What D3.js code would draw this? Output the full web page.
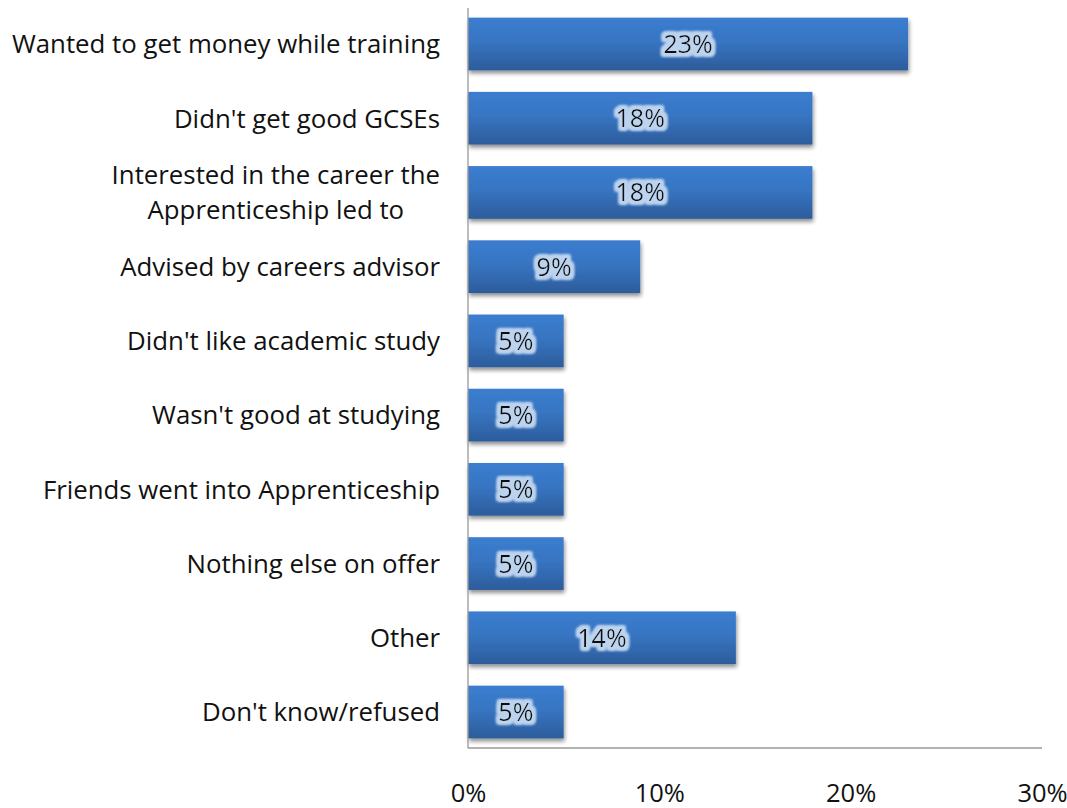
<!DOCTYPE html>
<html>
<head>
<meta charset="utf-8">
<script src="https://cdn.jsdelivr.net/npm/d3@7"></script>
<style>
  body { margin: 0; background: #fff; }
  svg { display: block; font-family: "Open Sans", "Noto Sans", sans-serif; }
</style>
</head>
<body>
<svg id="chart" width="1067" height="808"></svg>
<script>
// Reasons for choosing an Apprenticeship (share of respondents)
const categories = [
  "Wanted to get money while training",
  "Didn't get good GCSEs",
  "Interested in the career the\nApprenticeship led to",
  "Advised by careers advisor",
  "Didn't like academic study",
  "Wasn't good at studying",
  "Friends went into Apprenticeship",
  "Nothing else on offer",
  "Other",
  "Don't know/refused"
];
const values = [23, 18, 18, 9, 5, 5, 5, 5, 14, 5];
const tickValues = [0, 10, 20, 30];

const svg = d3.select("#chart");
const margin = { left: 468, right: 25, top: 8, bottom: 60 };
const width = 1067 - margin.left - margin.right;
const height = 808 - margin.top - margin.bottom;

const x = d3.scaleLinear().domain([0, 30]).range([0, width]);
const y = d3.scaleBand().domain(categories).range([0, height]).paddingInner(0.29).paddingOuter(0.13);

const defs = svg.append("defs");
const grad = defs.append("linearGradient").attr("id", "barGrad")
  .attr("x1", 0).attr("y1", 0).attr("x2", 0).attr("y2", 1);
grad.append("stop").attr("offset", "0%").attr("stop-color", "#3b7dd0");
grad.append("stop").attr("offset", "45%").attr("stop-color", "#3775c2");
grad.append("stop").attr("offset", "100%").attr("stop-color", "#2c5c9b");

const shadow = defs.append("filter").attr("id", "barShadow")
  .attr("x", "-5%").attr("y", "-20%").attr("width", "115%").attr("height", "160%");
shadow.append("feGaussianBlur").attr("in", "SourceAlpha").attr("stdDeviation", 2).attr("result", "b");
shadow.append("feOffset").attr("in", "b").attr("dx", 1).attr("dy", 3).attr("result", "o");
shadow.append("feComponentTransfer").attr("in", "o").attr("result", "s")
  .append("feFuncA").attr("type", "linear").attr("slope", 0.45);
const sm = shadow.append("feMerge");
sm.append("feMergeNode").attr("in", "s");
sm.append("feMergeNode").attr("in", "SourceGraphic");

const glow = defs.append("filter").attr("id", "textGlow")
  .attr("x", "-30%").attr("y", "-40%").attr("width", "160%").attr("height", "180%");
glow.append("feMorphology").attr("in", "SourceAlpha").attr("operator", "dilate").attr("radius", 3.2).attr("result", "d");
glow.append("feGaussianBlur").attr("in", "d").attr("stdDeviation", 1.8).attr("result", "g");
glow.append("feFlood").attr("flood-color", "#bcd3ee").attr("result", "c");
glow.append("feComposite").attr("in", "c").attr("in2", "g").attr("operator", "in").attr("result", "cg");
const gm = glow.append("feMerge");
gm.append("feMergeNode").attr("in", "cg");
gm.append("feMergeNode").attr("in", "cg");
gm.append("feMergeNode").attr("in", "cg");
gm.append("feMergeNode").attr("in", "SourceGraphic");

const g = svg.append("g").attr("transform", `translate(${margin.left},${margin.top})`);

// bars
g.selectAll("rect.bar").data(categories).join("rect")
  .attr("class", "bar")
  .attr("x", 0)
  .attr("y", d => y(d))
  .attr("width", (d, i) => x(values[i]))
  .attr("height", y.bandwidth())
  .attr("fill", "url(#barGrad)")
  .attr("filter", "url(#barShadow)");

// value labels
g.selectAll("text.val").data(categories).join("text")
  .attr("class", "val")
  .attr("x", (d, i) => x(values[i]) / 2)
  .attr("y", d => y(d) + y.bandwidth() / 2)
  .attr("dy", "0.36em")
  .attr("text-anchor", "middle")
  .attr("font-size", 25)
  .attr("fill", "#111")
  .attr("filter", "url(#textGlow)")
  .text((d, i) => values[i] + "%");

// axis lines
g.append("line").attr("x1", 0).attr("x2", 0).attr("y1", 0).attr("y2", height)
  .attr("stroke", "#999").attr("stroke-width", 1.3);
g.append("line").attr("x1", 0).attr("x2", width).attr("y1", height).attr("y2", height)
  .attr("stroke", "#999").attr("stroke-width", 1.3);

// x tick labels
const xAxis = d3.axisBottom(x).tickValues(tickValues).tickSize(0).tickPadding(36)
  .tickFormat(d => d + "%");
const xg = g.append("g").attr("transform", `translate(0,${height})`).call(xAxis);
xg.select(".domain").remove();
xg.selectAll("text").attr("font-size", 25.5).attr("fill", "#111")
  .attr("font-family", "\"Open Sans\", sans-serif");

// category labels
const yg = g.append("g");
categories.forEach(c => {
  const lines = c.split("\n");
  const cy = y(c) + y.bandwidth() / 2;
  const lh = 35;
  const t = yg.append("text")
    .attr("x", -28)
    .attr("text-anchor", "end")
    .attr("font-size", 25.8)
    .attr("fill", "#111");
  lines.forEach((ln, i) => {
    t.append("tspan")
      .attr("x", -28)
      .attr("y", cy + (i - (lines.length - 1) / 2) * lh)
      .attr("dy", "0.36em")
      .text(ln);
  });
  if (lines.length > 1) {
    // multi-line labels are centred as a block, right edge on the longest line
    const bb = t.node().getBBox();
    t.attr("text-anchor", "middle");
    t.selectAll("tspan").attr("x", -28 - bb.width / 2);
  }
});
</script>
</body>
</html>
